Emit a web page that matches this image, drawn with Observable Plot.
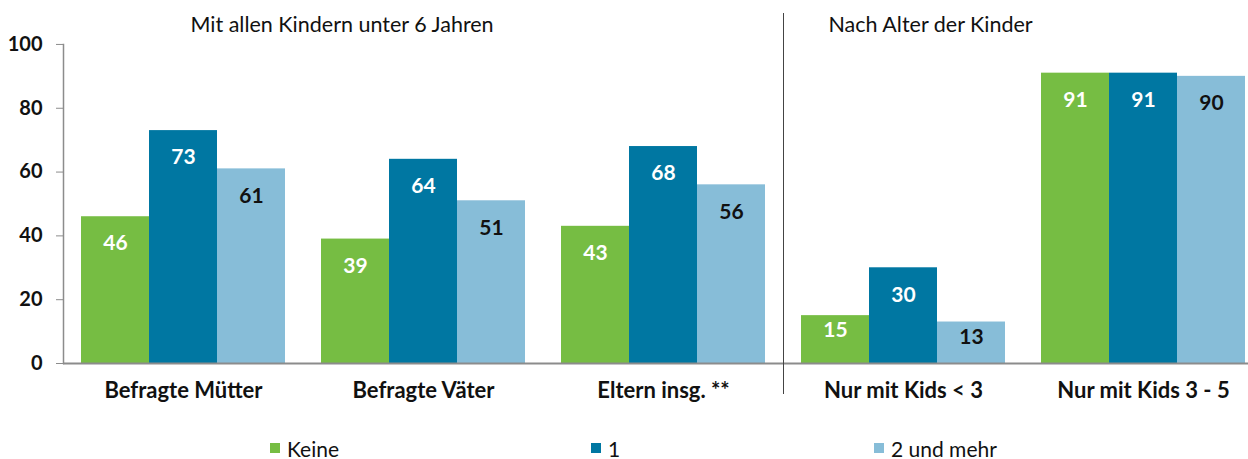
<!DOCTYPE html>
<html><head><meta charset="utf-8">
<script src="https://cdn.jsdelivr.net/npm/d3@7"></script>
<script src="https://cdn.jsdelivr.net/npm/@observablehq/plot@0.6"></script>
<style>
html,body{margin:0;padding:0;overflow:hidden;background:#fff;}
body{width:1248px;height:459px;position:relative;font-family:Lato,sans-serif;}
#chart svg{max-width:none !important;}
#legend{position:absolute;left:0;top:435px;width:1248px;height:26px;font-size:21px;color:#111;}
.li{position:absolute;top:0;display:flex;align-items:center;height:26px;}
.sw{width:10px;height:10px;margin-right:7px;}
</style></head><body>
<div id="chart"></div>
<div id="legend"></div>
<script>
const groups = ["Befragte Mütter", "Befragte Väter", "Eltern insg. **", "Nur mit Kids < 3", "Nur mit Kids 3 - 5"];
const series = ["Keine", "1", "2 und mehr"];
const keine = [46, 39, 43, 15, 91];
const eins = [73, 64, 68, 30, 91];
const zweiUndMehr = [61, 51, 56, 13, 90];
const yTicks = [0, 20, 40, 60, 80, 100];
const colors = ["#76bd43", "#0077a2", "#87bdd8"];
const labelColors = ["#ffffff", "#ffffff", "#111111"];
const sectionTitles = ["Mit allen Kindern unter 6 Jahren", "Nach Alter der Kinder"];

const data = [];
groups.forEach((g, i) => {
  [keine, eins, zweiUndMehr].forEach((arr, j) => data.push({group: g, series: series[j], value: arr[i]}));
});

const font = 'Lato, sans-serif';
const chart = Plot.plot({
  width: 1263, height: 420,
  marginLeft: 63, marginRight: 0, marginTop: 13, marginBottom: 57,
  style: {fontFamily: font, background: "transparent", overflow: "visible", maxWidth: "none"},
  fx: {domain: groups, padding: 0, label: null},
  x: {domain: series, paddingInner: 0, paddingOuter: 18 / 68, axis: null},
  y: {domain: [0, 109.7], axis: null},
  color: {domain: series, range: colors},
  marks: [
    Plot.barY(data, {fx: "group", x: "series", y: "value", fill: "series"}),
    ...data.map(d => Plot.text([d], {fx: "group", x: "series", y: "value", text: v => String(v.value),
      dy: d.value < 20 ? 15 : 27, fill: labelColors[series.indexOf(d.series)],
      fontWeight: "bold", fontSize: 21})),
    Plot.ruleY([0], {stroke: "#8c8c8c", strokeWidth: 2}),
    Plot.axisY({ticks: yTicks, tickSize: 7, tickPadding: 14, stroke: "#8c8c8c", fill: "#111", label: null,
      fontWeight: "bold", fontSize: 20, tickFormat: d => String(d)}),
    Plot.frame({anchor: "left", fx: () => groups[0], insetTop: 31, stroke: "#8c8c8c", strokeWidth: 1.5}),
    Plot.frame({anchor: "left", fx: () => groups[3], insetBottom: -30, stroke: "#444", strokeWidth: 1}),
    Plot.axisFx({anchor: "bottom", tickSize: 0, tickPadding: 19, fontWeight: "bold", fontSize: 22, fill: "#111", label: null}),
    Plot.text([sectionTitles[0]], {fx: () => groups[0], frameAnchor: "top-left", textAnchor: "start", dx: 127, dy: 3, fontSize: 21.5, fill: "#111", text: d => d}),
    Plot.text([sectionTitles[1]], {fx: () => groups[3], frameAnchor: "top-left", textAnchor: "start", dx: 45, dy: 3, fontSize: 21.5, fill: "#111", text: d => d})
  ]
});
chart.style.maxWidth = "none";
document.getElementById("chart").appendChild(chart);

const legendX = [270, 591, 874];
const legend = document.getElementById("legend");
series.forEach((s, i) => {
  const item = document.createElement("div");
  item.className = "li";
  item.style.left = legendX[i] + "px";
  item.innerHTML = `<span class="sw" style="background:${colors[i]}"></span><span>${s}</span>`;
  legend.appendChild(item);
});
</script>
</body></html>
